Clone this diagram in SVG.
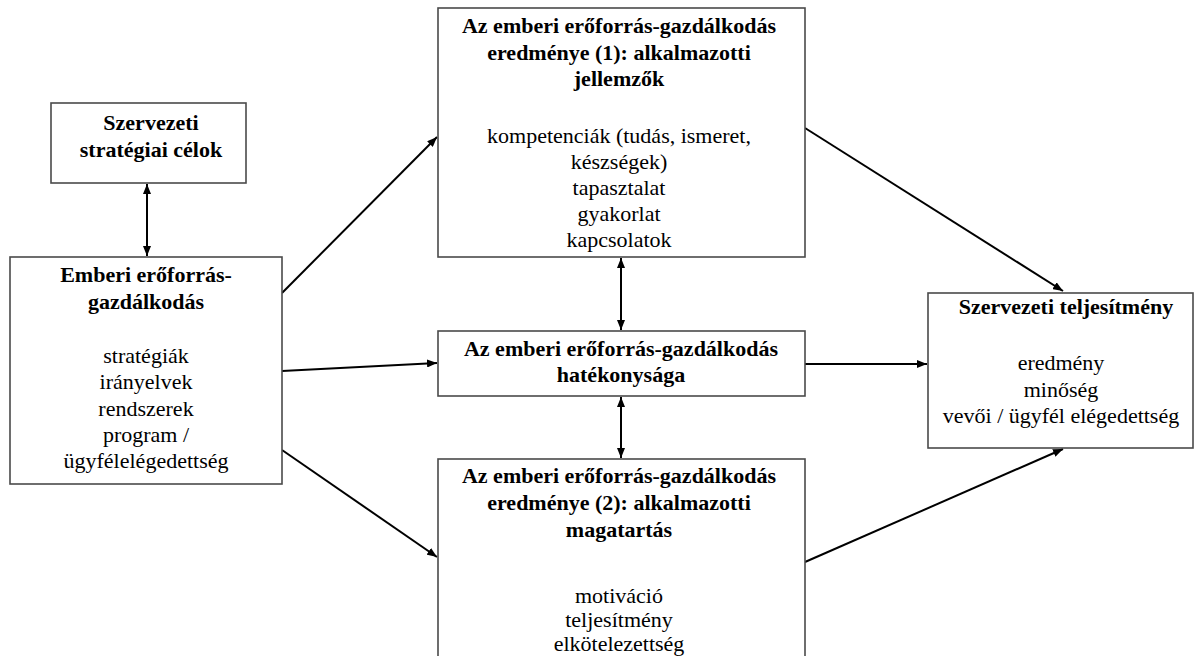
<svg xmlns="http://www.w3.org/2000/svg" width="1194" height="656" viewBox="0 0 1194 656">
  <style>
    .box { fill: #fff; stroke: #4a4a4a; stroke-width: 1.6; }
    .t { font-family: "Liberation Serif", "Times New Roman", serif; font-size: 22px; fill: #000; text-anchor: middle; }
    .b { font-weight: bold; }
    .link { stroke: #000; stroke-width: 2; fill: none; }
  </style>
  <defs>
    <marker id="arrow" viewBox="0 0 10 8" refX="10" refY="4" markerWidth="10" markerHeight="8" markerUnits="userSpaceOnUse" orient="auto-start-reverse">
      <path d="M0,0 L10,4 L0,8 Z" fill="#000"/>
    </marker>
  </defs>
  <rect width="1194" height="656" fill="#fff"/>

  <g id="connectors">
    <line class="link" x1="147" y1="184" x2="147" y2="256" marker-start="url(#arrow)" marker-end="url(#arrow)"/>
    <line class="link" x1="282" y1="293" x2="437" y2="137" marker-end="url(#arrow)"/>
    <line class="link" x1="282" y1="371" x2="437" y2="363" marker-end="url(#arrow)"/>
    <line class="link" x1="282" y1="450" x2="437" y2="557" marker-end="url(#arrow)"/>
    <line class="link" x1="621" y1="258" x2="621" y2="330" marker-start="url(#arrow)" marker-end="url(#arrow)"/>
    <line class="link" x1="621" y1="397" x2="621" y2="458" marker-start="url(#arrow)" marker-end="url(#arrow)"/>
    <line class="link" x1="805" y1="128" x2="1063" y2="291" marker-end="url(#arrow)"/>
    <line class="link" x1="805" y1="364" x2="927" y2="364" marker-end="url(#arrow)"/>
    <line class="link" x1="805" y1="562" x2="1063" y2="449" marker-end="url(#arrow)"/>
  </g>

  <g id="strategiai-celok">
    <rect class="box" x="51" y="103" width="195" height="80"/>
    <text class="t b" x="151" y="130">Szervezeti</text>
    <text class="t b" x="151" y="157">stratégiai célok</text>
  </g>

  <g id="emberi-eroforras">
    <rect class="box" x="10" y="257" width="272" height="227"/>
    <text class="t b" x="146" y="282">Emberi erőforrás-</text>
    <text class="t b" x="146" y="309">gazdálkodás</text>
    <text class="t" x="146" y="363">stratégiák</text>
    <text class="t" x="146" y="389">irányelvek</text>
    <text class="t" x="146" y="416">rendszerek</text>
    <text class="t" x="146" y="442">program /</text>
    <text class="t" x="146" y="468">ügyfélelégedettség</text>
  </g>

  <g id="eredmeny-1">
    <rect class="box" x="438" y="8" width="367" height="249"/>
    <text class="t b" x="619" y="33">Az emberi erőforrás-gazdálkodás</text>
    <text class="t b" x="619" y="60">eredménye (1): alkalmazotti</text>
    <text class="t b" x="619" y="86">jellemzők</text>
    <text class="t" x="619" y="143">kompetenciák (tudás, ismeret,</text>
    <text class="t" x="619" y="169">készségek)</text>
    <text class="t" x="619" y="195">tapasztalat</text>
    <text class="t" x="619" y="221">gyakorlat</text>
    <text class="t" x="619" y="247">kapcsolatok</text>
  </g>

  <g id="hatekonysag">
    <rect class="box" x="438" y="331" width="367" height="65"/>
    <text class="t b" x="621" y="356">Az emberi erőforrás-gazdálkodás</text>
    <text class="t b" x="621" y="382">hatékonysága</text>
  </g>

  <g id="eredmeny-2">
    <rect class="box" x="438" y="459" width="367" height="240"/>
    <text class="t b" x="619" y="483">Az emberi erőforrás-gazdálkodás</text>
    <text class="t b" x="619" y="510">eredménye (2): alkalmazotti</text>
    <text class="t b" x="619" y="537">magatartás</text>
    <text class="t" x="619" y="603">motiváció</text>
    <text class="t" x="619" y="627">teljesítmény</text>
    <text class="t" x="619" y="651">elkötelezettség</text>
  </g>

  <g id="szervezeti-teljesitmeny">
    <rect class="box" x="928" y="293" width="265" height="155"/>
    <text class="t b" x="1066" y="314">Szervezeti teljesítmény</text>
    <text class="t" x="1061" y="370">eredmény</text>
    <text class="t" x="1061" y="397">minőség</text>
    <text class="t" x="1061" y="423">vevői / ügyfél elégedettség</text>
  </g>
</svg>
